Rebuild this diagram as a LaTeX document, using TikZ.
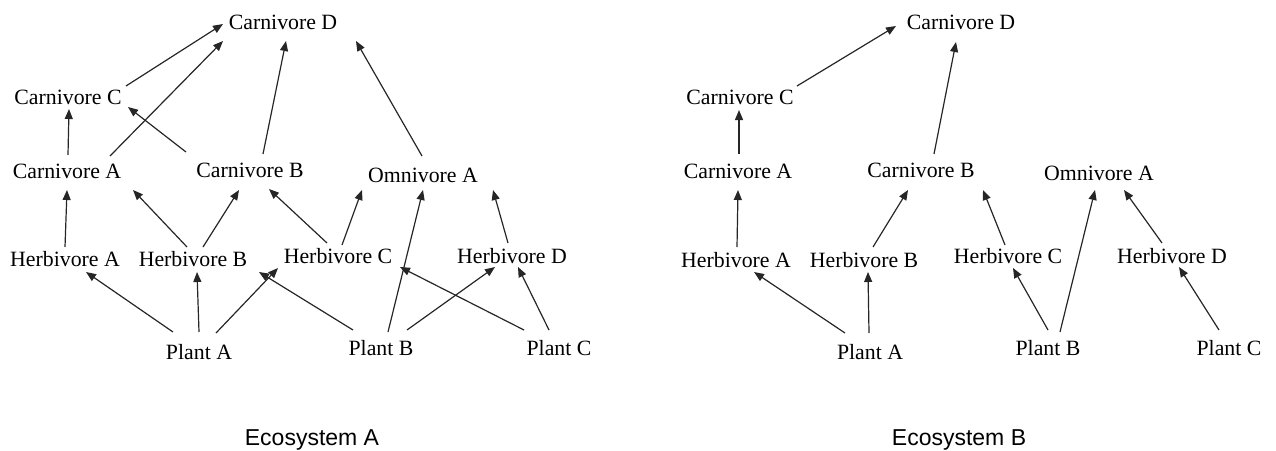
\documentclass[tikz,border=0pt]{standalone}
\usepackage{fontspec}
\setmainfont{Liberation Serif}
\newfontfamily\capfont{Liberation Sans}
\usetikzlibrary{calc,arrows.meta}
\tikzset{
  lbl/.style={inner sep=0pt, font=\fontsize{21.8}{24}\selectfont, text=black},
  ecolbl/.style={inner sep=0pt, anchor=base, font=\capfont\fontsize{23}{26}\selectfont, text=black},
  arr/.style={-{Triangle[length=10pt,width=8pt]}, line width=1.2pt, draw=black!85}
}
\begin{document}
\begin{tikzpicture}[x=1pt,y=-1pt]
\useasboundingbox (0,0) rectangle (1276,450);
% ---------- Ecosystem A ----------
\node[lbl] (cD) at (283,22) {Carnivore D};
\node[lbl] (cC) at (68,97) {Carnivore C};
\node[lbl] (cA) at (67,171) {Carnivore A};
\node[lbl] (cB) at (250,170) {Carnivore B};
\node[lbl] (oA) at (423,175) {Omnivore A};
\node[lbl] (hA) at (65,259) {Herbivore A};
\node[lbl] (hB) at (193,259) {Herbivore B};
\node[lbl] (hC) at (338,256) {Herbivore C};
\node[lbl] (hD) at (512,256) {Herbivore D};
\node[lbl] (pA) at (199,352) {Plant A};
\node[lbl] (pB) at (381,348) {Plant B};
\node[lbl] (pC) at (559,348) {Plant C};
\node[ecolbl] (ecoA) at (312,445) {Ecosystem A};

\draw[arr] ($(cC)+(58,-11)$) -- ($(cD)+(-60,2)$);
\draw[arr] ($(cA)+(43,-15)$) -- ($(cD)+(-60,19)$);
\draw[arr] ($(cB)+(13,-16)$) -- ($(cD)+(3,19)$);
\draw[arr] ($(oA)+(-1,-19)$) -- ($(cD)+(73,19)$);
\draw[arr] ($(cA)+(1,-16)$) -- ($(cC)+(1,12)$);
\draw[arr] ($(cB)+(-64,-18)$) -- ($(cC)+(60,10)$);
\draw[arr] ($(hA)+(0,-12)$) -- ($(cA)+(0,19)$);
\draw[arr] ($(hB)+(-6,-12)$) -- ($(cA)+(66,19)$);
\draw[arr] ($(hB)+(10,-12)$) -- ($(cB)+(-11,20)$);
\draw[arr] ($(hC)+(-11,-13)$) -- ($(cB)+(19,19)$);
\draw[arr] ($(hC)+(4,-11)$) -- ($(oA)+(-61,15)$);
\draw[arr] ($(pB)+(7,-16)$) -- ($(oA)+(0,15)$);
\draw[arr] ($(hD)+(-4,-13)$) -- ($(oA)+(70,15)$);
\draw[arr] ($(pA)+(-26,-20)$) -- ($(hA)+(21,13)$);
\draw[arr] ($(pA)+(0,-20)$) -- ($(hB)+(4,13)$);
\draw[arr] ($(pA)+(17,-19)$) -- ($(hC)+(-60,12)$);
\draw[arr] ($(pB)+(-28,-18)$) -- ($(hB)+(66,13)$);
\draw[arr] ($(pC)+(-35,-18)$) -- ($(hC)+(62,11)$);
\draw[arr] ($(pB)+(26,-18)$) -- ($(hD)+(-17,11)$);
\draw[arr] ($(pC)+(-10,-18)$) -- ($(hD)+(6,11)$);

% ---------- Ecosystem B ----------
\node[lbl] (cD2) at (961,22) {Carnivore D};
\node[lbl] (cC2) at (740,97) {Carnivore C};
\node[lbl] (cA2) at (738,171) {Carnivore A};
\node[lbl] (cB2) at (921,170) {Carnivore B};
\node[lbl] (oA2) at (1099,173) {Omnivore A};
\node[lbl] (hA2) at (736,260) {Herbivore A};
\node[lbl] (hB2) at (864,260) {Herbivore B};
\node[lbl] (hC2) at (1008,256) {Herbivore C};
\node[lbl] (hD2) at (1172,256) {Herbivore D};
\node[lbl] (pA2) at (870,352) {Plant A};
\node[lbl] (pB2) at (1048,348) {Plant B};
\node[lbl] (pC2) at (1229,348) {Plant C};
\node[ecolbl] (ecoB) at (959,445) {Ecosystem B};

\draw[arr] ($(cC2)+(57,-11)$) -- ($(cD2)+(-65,4)$);
\draw[arr] ($(cB2)+(13,-16)$) -- ($(cD2)+(-5,20)$);
\draw[arr] ($(cA2)+(1,-17)$) -- ($(cC2)+(-1,13)$);
\draw[arr] ($(hA2)+(1,-13)$) -- ($(cA2)+(0,19)$);
\draw[arr] ($(hB2)+(9,-13)$) -- ($(cB2)+(-13,20)$);
\draw[arr] ($(hC2)+(-3,-11)$) -- ($(cB2)+(62,20)$);
\draw[arr] ($(pB2)+(12,-16)$) -- ($(oA2)+(-4,17)$);
\draw[arr] ($(hD2)+(-10,-13)$) -- ($(oA2)+(25,17)$);
\draw[arr] ($(pA2)+(-25,-19)$) -- ($(hA2)+(18,12)$);
\draw[arr] ($(pA2)+(-1,-19)$) -- ($(hB2)+(4,12)$);
\draw[arr] ($(pB2)+(0,-18)$) -- ($(hC2)+(5,12)$);
\draw[arr] ($(pC2)+(-10,-18)$) -- ($(hD2)+(7,11)$);
\end{tikzpicture}
\end{document}
